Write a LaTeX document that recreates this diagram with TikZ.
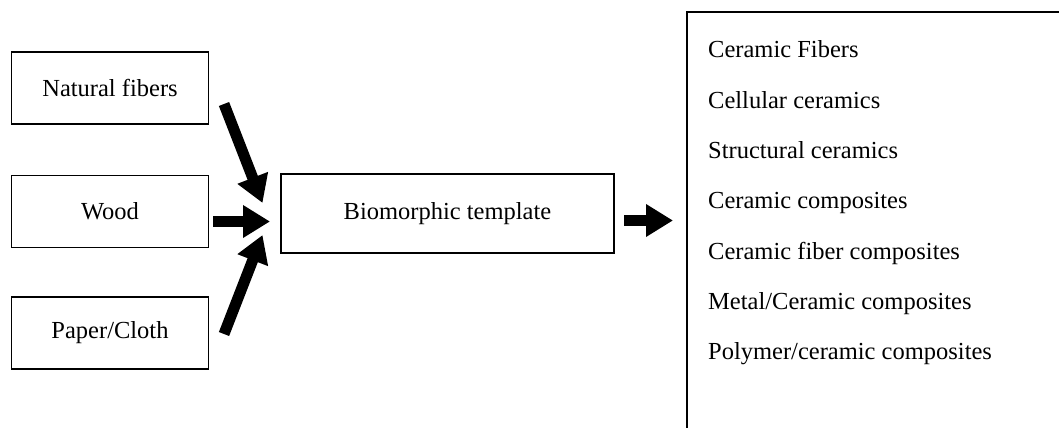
\documentclass[tikz,border=0pt]{standalone}
\usepackage{fontspec}
\setmainfont{Liberation Serif}
\usetikzlibrary{arrows.meta}

\tikzset{
  srcbox/.style={draw, line width=1.3pt, minimum width=197pt, minimum height=72pt,
                 inner sep=0pt, font=\fontsize{24.5}{29}\selectfont},
  tplbox/.style={srcbox, minimum width=333pt, minimum height=79pt},
  item/.style={anchor=base west, inner sep=0pt, font=\fontsize{24.5}{29}\selectfont},
  bigarrow/.style={line width=11pt, -{Triangle[length=27pt,width=31pt]}},
  frame/.style={line width=1.3pt}
}

\begin{document}
\begin{tikzpicture}[x=1pt,y=-1pt]
  \useasboundingbox (0,0) rectangle (1059,428);

  % source materials
  \node[srcbox] (nat) at (110,88) {Natural fibers};
  \node[srcbox] (wood) at (110,211.5) {Wood};
  \node[srcbox] (paper) at (110,333) {Paper/Cloth};

  % template
  \node[tplbox] (tpl) at (447.5,213.5) {Biomorphic template};

  % arrow end points
  \coordinate (natA) at (224,104);
  \coordinate (natB) at (262.5,203);
  \coordinate (woodA) at (213,221.5);
  \coordinate (woodB) at (270,221.5);
  \coordinate (papA) at (224,334);
  \coordinate (papB) at (262.5,235);
  \coordinate (outA) at (624,220.5);
  \coordinate (outB) at (673,220.5);

  \draw[bigarrow] (natA) -- (natB);
  \draw[bigarrow] (woodA) -- (woodB);
  \draw[bigarrow] (papA) -- (papB);
  \draw[bigarrow] (outA) -- (outB);

  % product list
  \coordinate (listTL) at (687,12);
  \draw[frame] (1059,12) -- (listTL) -- (687,428);
  \foreach \t [count=\i from 0] in {Ceramic Fibers, Cellular ceramics, Structural ceramics,
      Ceramic composites, Ceramic fiber composites, Metal/Ceramic composites,
      Polymer/ceramic composites}
    \node[item] (it\i) at (708,58+50.3*\i) {\t};
\end{tikzpicture}
\end{document}
